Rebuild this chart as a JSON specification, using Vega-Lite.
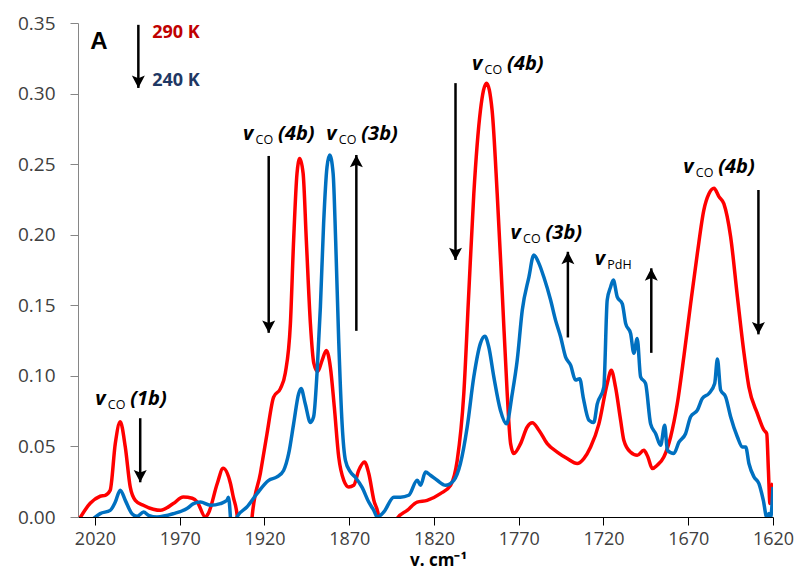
{
  "$schema": "https://vega.github.io/schema/vega-lite/v6.json",
  "width": 695,
  "height": 494,
  "autosize": {"type": "none"},
  "padding": {"left": 78, "top": 23, "right": 25, "bottom": 54},
  "background": "white",
  "config": {
    "view": {"stroke": null},
    "axis": {"grid": false, "labelFont": "Open Sans", "titleFont": "Open Sans"}
  },
  "datasets": {
    "spectra": [
      {"series": "290 K", "wavenumber": 2030, "absorbance": -0.003},
      {"series": "290 K", "wavenumber": 2022.8, "absorbance": 0.0097},
      {"series": "290 K", "wavenumber": 2016.9, "absorbance": 0.0147},
      {"series": "290 K", "wavenumber": 2013.9, "absorbance": 0.0154},
      {"series": "290 K", "wavenumber": 2011.0, "absorbance": 0.019},
      {"series": "290 K", "wavenumber": 2008.0, "absorbance": 0.052},
      {"series": "290 K", "wavenumber": 2005.1, "absorbance": 0.0674},
      {"series": "290 K", "wavenumber": 2002.1, "absorbance": 0.0496},
      {"series": "290 K", "wavenumber": 1999.2, "absorbance": 0.0213},
      {"series": "290 K", "wavenumber": 1996.2, "absorbance": 0.0118},
      {"series": "290 K", "wavenumber": 1991.5, "absorbance": 0.0083},
      {"series": "290 K", "wavenumber": 1985.6, "absorbance": 0.0055},
      {"series": "290 K", "wavenumber": 1981.4, "absorbance": 0.0047},
      {"series": "290 K", "wavenumber": 1973.8, "absorbance": 0.0095},
      {"series": "290 K", "wavenumber": 1967.9, "absorbance": 0.0142},
      {"series": "290 K", "wavenumber": 1962.6, "absorbance": 0.0133},
      {"series": "290 K", "wavenumber": 1959.6, "absorbance": 0.0106},
      {"series": "290 K", "wavenumber": 1954.9, "absorbance": 0.0},
      {"series": "290 K", "wavenumber": 1953.1, "absorbance": 0.0026},
      {"series": "290 K", "wavenumber": 1947.8, "absorbance": 0.0239},
      {"series": "290 K", "wavenumber": 1944.4, "absorbance": 0.0345},
      {"series": "290 K", "wavenumber": 1940.1, "absorbance": 0.0239},
      {"series": "290 K", "wavenumber": 1938.4, "absorbance": 0.0142},
      {"series": "290 K", "wavenumber": 1936.0, "absorbance": 0.0},
      {"series": "290 K", "wavenumber": 1935.0, "absorbance": -0.02},
      {"series": "290 K", "wavenumber": 1928.5, "absorbance": -0.02},
      {"series": "290 K", "wavenumber": 1927.3, "absorbance": 0.0},
      {"series": "290 K", "wavenumber": 1922.4, "absorbance": 0.031},
      {"series": "290 K", "wavenumber": 1918.5, "absorbance": 0.059},
      {"series": "290 K", "wavenumber": 1914.6, "absorbance": 0.085},
      {"series": "290 K", "wavenumber": 1910.6, "absorbance": 0.091},
      {"series": "290 K", "wavenumber": 1907.7, "absorbance": 0.102},
      {"series": "290 K", "wavenumber": 1904.7, "absorbance": 0.137},
      {"series": "290 K", "wavenumber": 1902.8, "absorbance": 0.196},
      {"series": "290 K", "wavenumber": 1900.8, "absorbance": 0.2435},
      {"series": "290 K", "wavenumber": 1899.2, "absorbance": 0.254},
      {"series": "290 K", "wavenumber": 1897.2, "absorbance": 0.2435},
      {"series": "290 K", "wavenumber": 1895.3, "absorbance": 0.196},
      {"series": "290 K", "wavenumber": 1892.9, "absorbance": 0.137},
      {"series": "290 K", "wavenumber": 1890.9, "absorbance": 0.109},
      {"series": "290 K", "wavenumber": 1888.6, "absorbance": 0.103},
      {"series": "290 K", "wavenumber": 1886.0, "absorbance": 0.111},
      {"series": "290 K", "wavenumber": 1883.5, "absorbance": 0.118},
      {"series": "290 K", "wavenumber": 1881.1, "absorbance": 0.106},
      {"series": "290 K", "wavenumber": 1878.8, "absorbance": 0.078},
      {"series": "290 K", "wavenumber": 1876.2, "absorbance": 0.0426},
      {"series": "290 K", "wavenumber": 1873.2, "absorbance": 0.026},
      {"series": "290 K", "wavenumber": 1870.3, "absorbance": 0.0213},
      {"series": "290 K", "wavenumber": 1867.3, "absorbance": 0.0225},
      {"series": "290 K", "wavenumber": 1864.4, "absorbance": 0.033},
      {"series": "290 K", "wavenumber": 1861.0, "absorbance": 0.039},
      {"series": "290 K", "wavenumber": 1858.5, "absorbance": 0.031},
      {"series": "290 K", "wavenumber": 1855.5, "absorbance": 0.012},
      {"series": "290 K", "wavenumber": 1852.6, "absorbance": 0.0},
      {"series": "290 K", "wavenumber": 1851.5, "absorbance": -0.02},
      {"series": "290 K", "wavenumber": 1843.0, "absorbance": -0.02},
      {"series": "290 K", "wavenumber": 1841.7, "absorbance": -0.001},
      {"series": "290 K", "wavenumber": 1835.8, "absorbance": 0.0047},
      {"series": "290 K", "wavenumber": 1829.9, "absorbance": 0.0106},
      {"series": "290 K", "wavenumber": 1824.0, "absorbance": 0.0118},
      {"series": "290 K", "wavenumber": 1816.2, "absorbance": 0.0166},
      {"series": "290 K", "wavenumber": 1810.2, "absorbance": 0.0225},
      {"series": "290 K", "wavenumber": 1806.3, "absorbance": 0.04},
      {"series": "290 K", "wavenumber": 1802.4, "absorbance": 0.0875},
      {"series": "290 K", "wavenumber": 1799.5, "absorbance": 0.158},
      {"series": "290 K", "wavenumber": 1796.5, "absorbance": 0.229},
      {"series": "290 K", "wavenumber": 1792.6, "absorbance": 0.288},
      {"series": "290 K", "wavenumber": 1789.0, "absorbance": 0.3074},
      {"series": "290 K", "wavenumber": 1785.7, "absorbance": 0.288},
      {"series": "290 K", "wavenumber": 1782.7, "absorbance": 0.229},
      {"series": "290 K", "wavenumber": 1779.7, "absorbance": 0.158},
      {"series": "290 K", "wavenumber": 1776.8, "absorbance": 0.0875},
      {"series": "290 K", "wavenumber": 1774.8, "absorbance": 0.052},
      {"series": "290 K", "wavenumber": 1772.9, "absorbance": 0.045},
      {"series": "290 K", "wavenumber": 1768.9, "absorbance": 0.052},
      {"series": "290 K", "wavenumber": 1765.0, "absorbance": 0.0638},
      {"series": "290 K", "wavenumber": 1762.0, "absorbance": 0.0667},
      {"series": "290 K", "wavenumber": 1758.1, "absorbance": 0.0615},
      {"series": "290 K", "wavenumber": 1753.2, "absorbance": 0.052},
      {"series": "290 K", "wavenumber": 1747.3, "absorbance": 0.046},
      {"series": "290 K", "wavenumber": 1741.4, "absorbance": 0.0414},
      {"series": "290 K", "wavenumber": 1735.5, "absorbance": 0.0379},
      {"series": "290 K", "wavenumber": 1731.6, "absorbance": 0.0414},
      {"series": "290 K", "wavenumber": 1727.6, "absorbance": 0.0496},
      {"series": "290 K", "wavenumber": 1722.7, "absorbance": 0.066},
      {"series": "290 K", "wavenumber": 1717.8, "absorbance": 0.0946},
      {"series": "290 K", "wavenumber": 1715.4, "absorbance": 0.104},
      {"series": "290 K", "wavenumber": 1712.9, "absorbance": 0.092},
      {"series": "290 K", "wavenumber": 1709.9, "absorbance": 0.0686},
      {"series": "290 K", "wavenumber": 1708.0, "absorbance": 0.0544},
      {"series": "290 K", "wavenumber": 1704.1, "absorbance": 0.046},
      {"series": "290 K", "wavenumber": 1700.1, "absorbance": 0.0437},
      {"series": "290 K", "wavenumber": 1696.2, "absorbance": 0.0473},
      {"series": "290 K", "wavenumber": 1693.8, "absorbance": 0.0425},
      {"series": "290 K", "wavenumber": 1691.2, "absorbance": 0.0343},
      {"series": "290 K", "wavenumber": 1688.3, "absorbance": 0.0367},
      {"series": "290 K", "wavenumber": 1684.4, "absorbance": 0.0425},
      {"series": "290 K", "wavenumber": 1680.4, "absorbance": 0.0567},
      {"series": "290 K", "wavenumber": 1676.5, "absorbance": 0.08},
      {"series": "290 K", "wavenumber": 1672.6, "absorbance": 0.1135},
      {"series": "290 K", "wavenumber": 1668.6, "absorbance": 0.151},
      {"series": "290 K", "wavenumber": 1664.6, "absorbance": 0.187},
      {"series": "290 K", "wavenumber": 1660.8, "absorbance": 0.2175},
      {"series": "290 K", "wavenumber": 1657.8, "absorbance": 0.229},
      {"series": "290 K", "wavenumber": 1654.8, "absorbance": 0.2329},
      {"series": "290 K", "wavenumber": 1651.9, "absorbance": 0.227},
      {"series": "290 K", "wavenumber": 1649.0, "absorbance": 0.222},
      {"series": "290 K", "wavenumber": 1645.0, "absorbance": 0.1986},
      {"series": "290 K", "wavenumber": 1641.0, "absorbance": 0.156},
      {"series": "290 K", "wavenumber": 1637.1, "absorbance": 0.116},
      {"series": "290 K", "wavenumber": 1634.2, "absorbance": 0.092},
      {"series": "290 K", "wavenumber": 1629.2, "absorbance": 0.0733},
      {"series": "290 K", "wavenumber": 1625.3, "absorbance": 0.0615},
      {"series": "290 K", "wavenumber": 1623.7, "absorbance": 0.059},
      {"series": "290 K", "wavenumber": 1622.7, "absorbance": 0.033},
      {"series": "290 K", "wavenumber": 1621.8, "absorbance": 0.0095},
      {"series": "290 K", "wavenumber": 1621.0, "absorbance": 0.0213},
      {"series": "290 K", "wavenumber": 1620.0, "absorbance": 0.0237},
      {"series": "240 K", "wavenumber": 2020.8, "absorbance": -0.001},
      {"series": "240 K", "wavenumber": 2016.9, "absorbance": 0.0024},
      {"series": "240 K", "wavenumber": 2011.0, "absorbance": 0.0047},
      {"series": "240 K", "wavenumber": 2008.0, "absorbance": 0.0106},
      {"series": "240 K", "wavenumber": 2005.1, "absorbance": 0.019},
      {"series": "240 K", "wavenumber": 2002.1, "absorbance": 0.0118},
      {"series": "240 K", "wavenumber": 1998.2, "absorbance": 0.0024},
      {"series": "240 K", "wavenumber": 1995.2, "absorbance": 0.0005},
      {"series": "240 K", "wavenumber": 1991.3, "absorbance": 0.0035},
      {"series": "240 K", "wavenumber": 1988.4, "absorbance": 0.0012},
      {"series": "240 K", "wavenumber": 1983.4, "absorbance": 0.0},
      {"series": "240 K", "wavenumber": 1973.6, "absorbance": 0.0024},
      {"series": "240 K", "wavenumber": 1965.7, "absorbance": 0.006},
      {"series": "240 K", "wavenumber": 1961.8, "absorbance": 0.0095},
      {"series": "240 K", "wavenumber": 1957.8, "absorbance": 0.0106},
      {"series": "240 K", "wavenumber": 1951.9, "absorbance": 0.0083},
      {"series": "240 K", "wavenumber": 1946.0, "absorbance": 0.0095},
      {"series": "240 K", "wavenumber": 1942.1, "absorbance": 0.0118},
      {"series": "240 K", "wavenumber": 1941.3, "absorbance": 0.014},
      {"series": "240 K", "wavenumber": 1940.1, "absorbance": 0.0},
      {"series": "240 K", "wavenumber": 1939.5, "absorbance": -0.015},
      {"series": "240 K", "wavenumber": 1937.0, "absorbance": -0.015},
      {"series": "240 K", "wavenumber": 1936.2, "absorbance": 0.0},
      {"series": "240 K", "wavenumber": 1930.3, "absorbance": 0.0071},
      {"series": "240 K", "wavenumber": 1924.4, "absorbance": 0.0166},
      {"series": "240 K", "wavenumber": 1917.5, "absorbance": 0.026},
      {"series": "240 K", "wavenumber": 1912.6, "absorbance": 0.0284},
      {"series": "240 K", "wavenumber": 1908.7, "absorbance": 0.033},
      {"series": "240 K", "wavenumber": 1905.7, "absorbance": 0.045},
      {"series": "240 K", "wavenumber": 1902.8, "absorbance": 0.066},
      {"series": "240 K", "wavenumber": 1899.8, "absorbance": 0.0875},
      {"series": "240 K", "wavenumber": 1898.4, "absorbance": 0.091},
      {"series": "240 K", "wavenumber": 1895.9, "absorbance": 0.08},
      {"series": "240 K", "wavenumber": 1892.9, "absorbance": 0.067},
      {"series": "240 K", "wavenumber": 1891.0, "absorbance": 0.071},
      {"series": "240 K", "wavenumber": 1889.0, "absorbance": 0.1017},
      {"series": "240 K", "wavenumber": 1887.0, "absorbance": 0.149},
      {"series": "240 K", "wavenumber": 1885.1, "absorbance": 0.208},
      {"series": "240 K", "wavenumber": 1883.1, "absorbance": 0.248},
      {"series": "240 K", "wavenumber": 1881.5, "absorbance": 0.2565},
      {"series": "240 K", "wavenumber": 1879.5, "absorbance": 0.2435},
      {"series": "240 K", "wavenumber": 1878.0, "absorbance": 0.196},
      {"series": "240 K", "wavenumber": 1876.2, "absorbance": 0.125},
      {"series": "240 K", "wavenumber": 1874.2, "absorbance": 0.066},
      {"series": "240 K", "wavenumber": 1872.2, "absorbance": 0.04},
      {"series": "240 K", "wavenumber": 1869.3, "absorbance": 0.032},
      {"series": "240 K", "wavenumber": 1866.3, "absorbance": 0.028},
      {"series": "240 K", "wavenumber": 1862.4, "absorbance": 0.021},
      {"series": "240 K", "wavenumber": 1858.5, "absorbance": 0.0106},
      {"series": "240 K", "wavenumber": 1855.5, "absorbance": 0.0047},
      {"series": "240 K", "wavenumber": 1853.5, "absorbance": 0.0},
      {"series": "240 K", "wavenumber": 1849.6, "absorbance": 0.0035},
      {"series": "240 K", "wavenumber": 1843.7, "absorbance": 0.014},
      {"series": "240 K", "wavenumber": 1839.8, "absorbance": 0.014},
      {"series": "240 K", "wavenumber": 1834.9, "absorbance": 0.0154},
      {"series": "240 K", "wavenumber": 1829.9, "absorbance": 0.026},
      {"series": "240 K", "wavenumber": 1827.9, "absorbance": 0.0225},
      {"series": "240 K", "wavenumber": 1825.0, "absorbance": 0.0319},
      {"series": "240 K", "wavenumber": 1822.1, "absorbance": 0.0296},
      {"series": "240 K", "wavenumber": 1818.1, "absorbance": 0.026},
      {"series": "240 K", "wavenumber": 1813.2, "absorbance": 0.0225},
      {"series": "240 K", "wavenumber": 1808.3, "absorbance": 0.026},
      {"series": "240 K", "wavenumber": 1804.4, "absorbance": 0.0379},
      {"series": "240 K", "wavenumber": 1800.4, "absorbance": 0.0638},
      {"series": "240 K", "wavenumber": 1796.5, "absorbance": 0.0993},
      {"series": "240 K", "wavenumber": 1792.6, "absorbance": 0.123},
      {"series": "240 K", "wavenumber": 1790.0, "absorbance": 0.128},
      {"series": "240 K", "wavenumber": 1787.7, "absorbance": 0.1206},
      {"series": "240 K", "wavenumber": 1784.7, "absorbance": 0.0993},
      {"series": "240 K", "wavenumber": 1780.8, "absorbance": 0.0757},
      {"series": "240 K", "wavenumber": 1777.2, "absorbance": 0.066},
      {"series": "240 K", "wavenumber": 1773.8, "absorbance": 0.0875},
      {"series": "240 K", "wavenumber": 1770.9, "absorbance": 0.111},
      {"series": "240 K", "wavenumber": 1767.9, "absorbance": 0.1466},
      {"series": "240 K", "wavenumber": 1764.0, "absorbance": 0.17},
      {"series": "240 K", "wavenumber": 1761.1, "absorbance": 0.1856},
      {"series": "240 K", "wavenumber": 1758.1, "absorbance": 0.1797},
      {"series": "240 K", "wavenumber": 1755.2, "absorbance": 0.17},
      {"series": "240 K", "wavenumber": 1751.2, "absorbance": 0.1537},
      {"series": "240 K", "wavenumber": 1748.3, "absorbance": 0.1395},
      {"series": "240 K", "wavenumber": 1745.3, "absorbance": 0.1277},
      {"series": "240 K", "wavenumber": 1742.4, "absorbance": 0.1135},
      {"series": "240 K", "wavenumber": 1739.4, "absorbance": 0.1076},
      {"series": "240 K", "wavenumber": 1736.5, "absorbance": 0.097},
      {"series": "240 K", "wavenumber": 1734.0, "absorbance": 0.098},
      {"series": "240 K", "wavenumber": 1732.0, "absorbance": 0.085},
      {"series": "240 K", "wavenumber": 1728.6, "absorbance": 0.0686},
      {"series": "240 K", "wavenumber": 1725.7, "absorbance": 0.067},
      {"series": "240 K", "wavenumber": 1723.7, "absorbance": 0.08},
      {"series": "240 K", "wavenumber": 1719.8, "absorbance": 0.092},
      {"series": "240 K", "wavenumber": 1717.8, "absorbance": 0.1537},
      {"series": "240 K", "wavenumber": 1715.8, "absorbance": 0.163},
      {"series": "240 K", "wavenumber": 1714.2, "absorbance": 0.1679},
      {"series": "240 K", "wavenumber": 1711.9, "absorbance": 0.156},
      {"series": "240 K", "wavenumber": 1708.9, "absorbance": 0.151},
      {"series": "240 K", "wavenumber": 1706.9, "absorbance": 0.137},
      {"series": "240 K", "wavenumber": 1704.0, "absorbance": 0.13},
      {"series": "240 K", "wavenumber": 1702.1, "absorbance": 0.116},
      {"series": "240 K", "wavenumber": 1700.1, "absorbance": 0.1265},
      {"series": "240 K", "wavenumber": 1698.1, "absorbance": 0.0993},
      {"series": "240 K", "wavenumber": 1695.2, "absorbance": 0.0946},
      {"series": "240 K", "wavenumber": 1692.2, "absorbance": 0.066},
      {"series": "240 K", "wavenumber": 1689.2, "absorbance": 0.059},
      {"series": "240 K", "wavenumber": 1686.3, "absorbance": 0.0508},
      {"series": "240 K", "wavenumber": 1683.9, "absorbance": 0.065},
      {"series": "240 K", "wavenumber": 1682.3, "absorbance": 0.0473},
      {"series": "240 K", "wavenumber": 1678.5, "absorbance": 0.045},
      {"series": "240 K", "wavenumber": 1675.5, "absorbance": 0.053},
      {"series": "240 K", "wavenumber": 1671.6, "absorbance": 0.059},
      {"series": "240 K", "wavenumber": 1668.6, "absorbance": 0.071},
      {"series": "240 K", "wavenumber": 1664.6, "absorbance": 0.0757},
      {"series": "240 K", "wavenumber": 1661.7, "absorbance": 0.084},
      {"series": "240 K", "wavenumber": 1657.8, "absorbance": 0.0875},
      {"series": "240 K", "wavenumber": 1654.4, "absorbance": 0.0946},
      {"series": "240 K", "wavenumber": 1652.8, "absorbance": 0.112},
      {"series": "240 K", "wavenumber": 1650.9, "absorbance": 0.09},
      {"series": "240 K", "wavenumber": 1647.9, "absorbance": 0.085},
      {"series": "240 K", "wavenumber": 1645.0, "absorbance": 0.071},
      {"series": "240 K", "wavenumber": 1641.0, "absorbance": 0.0567},
      {"series": "240 K", "wavenumber": 1638.1, "absorbance": 0.0496},
      {"series": "240 K", "wavenumber": 1636.1, "absorbance": 0.0496},
      {"series": "240 K", "wavenumber": 1634.2, "absorbance": 0.0379},
      {"series": "240 K", "wavenumber": 1631.2, "absorbance": 0.0284},
      {"series": "240 K", "wavenumber": 1628.3, "absorbance": 0.0237},
      {"series": "240 K", "wavenumber": 1625.7, "absorbance": 0.0118},
      {"series": "240 K", "wavenumber": 1623.7, "absorbance": 0.0},
      {"series": "240 K", "wavenumber": 1622.4, "absorbance": 0.0024},
      {"series": "240 K", "wavenumber": 1621.4, "absorbance": 0.0},
      {"series": "240 K", "wavenumber": 1620.0, "absorbance": 0.0213}
    ],
    "arrows": [
      {"x": 1994.4, "tail": 0.3487, "tip": 0.304, "dir": "down"},
      {"x": 1993.3, "tail": 0.07, "tip": 0.0246, "dir": "down"},
      {"x": 1917.5, "tail": 0.2558, "tip": 0.1305, "dir": "down"},
      {"x": 1865.8, "tail": 0.1319, "tip": 0.2565, "dir": "up"},
      {"x": 1807.3, "tail": 0.3074, "tip": 0.1821, "dir": "down"},
      {"x": 1741.0, "tail": 0.1272, "tip": 0.1879, "dir": "up"},
      {"x": 1691.8, "tail": 0.1163, "tip": 0.1762, "dir": "up"},
      {"x": 1628.6, "tail": 0.2317, "tip": 0.1294, "dir": "down"}
    ],
    "bands": [
      {"x": 2019.8, "y": 0.0792, "sub": "CO", "tag": "(1b)"},
      {"x": 1932.6, "y": 0.2672, "sub": "CO", "tag": "(4b)"},
      {"x": 1883.5, "y": 0.2672, "sub": "CO", "tag": "(3b)"},
      {"x": 1797.5, "y": 0.3168, "sub": "CO", "tag": "(4b)"},
      {"x": 1774.8, "y": 0.197, "sub": "CO", "tag": "(3b)"},
      {"x": 1725.1, "y": 0.1785, "sub": "PdH", "tag": ""},
      {"x": 1672.9, "y": 0.2435, "sub": "CO", "tag": "(4b)"}
    ],
    "notes": [
      {"text": "A", "x": 2022.7, "y": 0.3315},
      {"text": "290 K", "x": 1986.2, "y": 0.3393},
      {"text": "240 K", "x": 1986.2, "y": 0.3055}
    ]
  },
  "layer": [
    {
      "data": {"name": "spectra"},
      "transform": [{"filter": "datum.series === '290 K'"}],
      "mark": {"type": "line", "color": "#FF0000", "strokeWidth": 3.5, "clip": true, "strokeJoin": "round", "interpolate": "monotone"},
      "encoding": {
        "x": {
          "field": "wavenumber", "type": "quantitative",
          "scale": {"domain": [1620, 2030], "reverse": true, "nice": false, "zero": false},
          "axis": {
            "title": "v. cm⁻¹",
            "values": [2020, 1970, 1920, 1870, 1820, 1770, 1720, 1670, 1620],
            "format": "d",
            "domainColor": "#000000",
            "tickColor": "#000000",
            "tickSize": 8,
            "labelFontSize": 18,
            "labelColor": "#404040",
            "labelPadding": 5,
            "labelFlush": false,
            "titleFontSize": 17,
            "titleFontWeight": "bold",
            "titleColor": "#000000",
            "titleX": 360,
            "titleY": 48,
            "titleBaseline": "alphabetic"
          }
        },
        "y": {
          "field": "absorbance", "type": "quantitative",
          "scale": {"domain": [0, 0.35], "nice": false},
          "axis": {
            "title": null,
            "values": [0, 0.05, 0.1, 0.15, 0.2, 0.25, 0.3, 0.35],
            "format": ".2f",
            "domainColor": "#868686",
            "tickColor": "#868686",
            "tickSize": 8,
            "labelFontSize": 19,
            "labelColor": "#404040",
            "labelPadding": 15,
            "labelFlush": false
          }
        }
      }
    },
    {
      "data": {"name": "spectra"},
      "transform": [{"filter": "datum.series === '240 K'"}],
      "mark": {"type": "line", "color": "#0070C0", "strokeWidth": 3.5, "clip": true, "strokeJoin": "round", "interpolate": "monotone"},
      "encoding": {
        "x": {"field": "wavenumber", "type": "quantitative"},
        "y": {"field": "absorbance", "type": "quantitative"}
      }
    },
    {
      "data": {"name": "arrows"},
      "mark": {"type": "rule", "color": "#000000", "strokeWidth": 2.5},
      "encoding": {
        "x": {"field": "x", "type": "quantitative"},
        "y": {"field": "tail", "type": "quantitative"},
        "y2": {"field": "tip"}
      }
    },
    {
      "data": {"name": "arrows"},
      "mark": {"type": "point", "filled": true, "color": "#000000", "opacity": 1, "size": 169, "strokeWidth": 0},
      "encoding": {
        "x": {"field": "x", "type": "quantitative"},
        "y": {"field": "tip", "type": "quantitative"},
        "shape": {
          "field": "dir", "type": "nominal", "legend": null,
          "scale": {
            "domain": ["down", "up"],
            "range": ["M0,0L-1,-1.9L0,-1.5L1,-1.9Z", "M0,0L-1,1.9L0,1.5L1,1.9Z"]
          }
        }
      }
    },
    {
      "data": {"name": "bands"},
      "mark": {"type": "text", "text": "v", "font": "Open Sans", "fontSize": 20, "fontWeight": "bold", "fontStyle": "italic", "align": "left", "baseline": "alphabetic", "color": "#000000"},
      "encoding": {
        "x": {"field": "x", "type": "quantitative"},
        "y": {"field": "y", "type": "quantitative"}
      }
    },
    {
      "data": {"name": "bands"},
      "mark": {"type": "text", "font": "Open Sans", "fontSize": 12.5, "align": "left", "baseline": "alphabetic", "dx": 12.5, "dy": 4, "color": "#000000"},
      "encoding": {
        "x": {"field": "x", "type": "quantitative"},
        "y": {"field": "y", "type": "quantitative"},
        "text": {"field": "sub"}
      }
    },
    {
      "data": {"name": "bands"},
      "mark": {"type": "text", "font": "Open Sans", "fontSize": 20, "fontWeight": "bold", "fontStyle": "italic", "align": "left", "baseline": "alphabetic", "dx": 35, "color": "#000000"},
      "encoding": {
        "x": {"field": "x", "type": "quantitative"},
        "y": {"field": "y", "type": "quantitative"},
        "text": {"field": "tag"}
      }
    },
    {
      "data": {"name": "notes"},
      "transform": [{"filter": "datum.text === 'A'"}],
      "mark": {"type": "text", "font": "Liberation Sans", "fontSize": 24, "fontWeight": "bold", "align": "left", "baseline": "alphabetic", "color": "#000000"},
      "encoding": {
        "x": {"field": "x", "type": "quantitative"},
        "y": {"field": "y", "type": "quantitative"},
        "text": {"field": "text"}
      }
    },
    {
      "data": {"name": "notes"},
      "transform": [{"filter": "datum.text === '290 K'"}],
      "mark": {"type": "text", "font": "Open Sans", "fontSize": 18, "fontWeight": "bold", "align": "left", "baseline": "alphabetic", "color": "#C00000"},
      "encoding": {
        "x": {"field": "x", "type": "quantitative"},
        "y": {"field": "y", "type": "quantitative"},
        "text": {"field": "text"}
      }
    },
    {
      "data": {"name": "notes"},
      "transform": [{"filter": "datum.text === '240 K'"}],
      "mark": {"type": "text", "font": "Open Sans", "fontSize": 18, "fontWeight": "bold", "align": "left", "baseline": "alphabetic", "color": "#1F3864"},
      "encoding": {
        "x": {"field": "x", "type": "quantitative"},
        "y": {"field": "y", "type": "quantitative"},
        "text": {"field": "text"}
      }
    }
  ]
}
